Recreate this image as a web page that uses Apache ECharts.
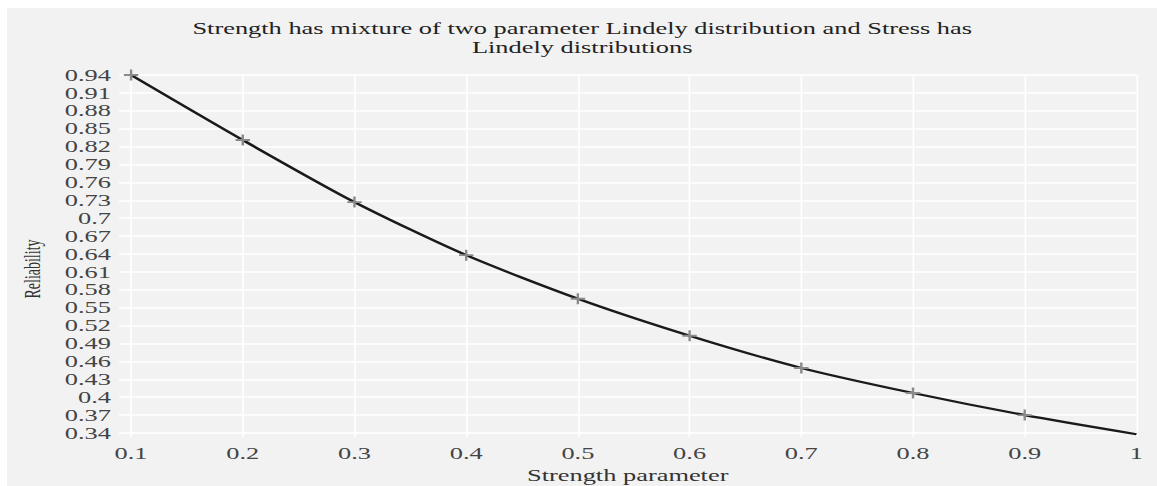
<!DOCTYPE html>
<html>
<head>
<meta charset="utf-8">
<script src="https://cdn.jsdelivr.net/npm/echarts@6/dist/echarts.min.js"></script>
<style>
  body { margin: 0; background: #fff; }
  /* the source figure is stretched sideways, so the chart is drawn narrow and widened */
  #main {
    position: absolute; left: 7px; top: 8px;
    width: 718.75px; height: 478px;
    transform: scaleX(1.6); transform-origin: 0 0;
  }
</style>
</head>
<body>
<div id="main"></div>
<script>
const strength = [0.1, 0.2, 0.3, 0.4, 0.5, 0.6, 0.7, 0.8, 0.9, 1.0];
const reliability = [0.94, 0.831, 0.727, 0.638, 0.565, 0.503, 0.449, 0.407, 0.370, 0.338];
const xTicks = [0.1, 0.2, 0.3, 0.4, 0.5, 0.6, 0.7, 0.8, 0.9, 1];
const yTicks = [0.34, 0.37, 0.4, 0.43, 0.46, 0.49, 0.52, 0.55, 0.58, 0.61, 0.64,
  0.67, 0.7, 0.73, 0.76, 0.79, 0.82, 0.85, 0.88, 0.91, 0.94];

const font = 'Liberation Serif';
const plus = 'path://M5,0H7V5H12V7H7V12H5V7H0V5H5Z';

let chartDom = document.getElementById('main');
let myChart = echarts.init(chartDom, null, { renderer: 'svg' });

let option = {
  backgroundColor: '#f2f2f2',
  animation: false,
  title: {
    text: 'Strength has mixture of two parameter Lindely distribution and Stress has\nLindely distributions',
    left: 'center',
    top: 6,
    textStyle: { fontFamily: font, fontSize: 16.5, fontWeight: 'normal', color: '#222', lineHeight: 19 }
  },
  grid: { left: 70, right: 13.1, top: 67, bottom: 49, outerBoundsMode: 'none' },
  xAxis: {
    type: 'value',
    min: 0.0892,
    max: 1,
    name: 'Strength parameter',
    nameLocation: 'middle',
    nameGap: 28,
    nameTextStyle: { fontFamily: font, fontSize: 16.5, color: '#333' },
    axisLine: { show: false },
    axisTick: { show: false, customValues: xTicks },
    axisLabel: {
      customValues: xTicks,
      fontFamily: font, fontSize: 16.5, color: '#444', margin: 8,
      formatter: v => String(+v.toFixed(2))
    },
    splitLine: { show: true, lineStyle: { color: '#ffffff', width: 1 } }
  },
  yAxis: {
    type: 'value',
    min: 0.3333,
    max: 0.94,
    name: 'Reliability',
    nameLocation: 'middle',
    nameGap: 47,
    nameTextStyle: { fontFamily: font, fontSize: 14, color: '#333', padding: [0, 26, 0, 0] },
    axisLine: { show: false },
    axisTick: { show: false, customValues: yTicks },
    axisLabel: {
      customValues: yTicks,
      fontFamily: font, fontSize: 16.5, color: '#444', margin: 5,
      formatter: v => String(+v.toFixed(2))
    },
    splitLine: { show: true, lineStyle: { color: '#ffffff', width: 1.5 } }
  },
  series: [
    {
      name: 'Reliability',
      type: 'line',
      smooth: 0.25,
      data: strength.map((x, i) => ({
        value: [x, reliability[i]],
        symbol: i === strength.length - 1 ? 'none' : plus
      })),
      symbolSize: [9, 11],
      showAllSymbol: true,
      itemStyle: { color: '#8a8a8a' },
      lineStyle: { color: '#1a1a1a', width: 2.2 },
      z: 3
    }
  ]
};

myChart.setOption(option);
</script>
</body>
</html>
